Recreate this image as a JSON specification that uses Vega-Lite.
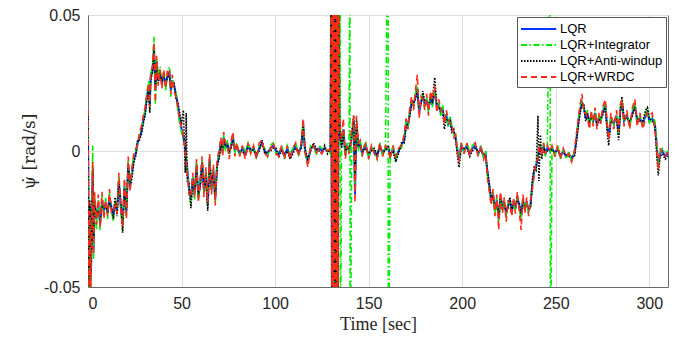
{
"$schema": "https://vega.github.io/schema/vega-lite/v6.json",
"width": 580, "height": 272,
"autosize": {"type": "none"},
"padding": {"left": 88, "top": 15, "right": 13, "bottom": 51},
"background": "white",
"config": {
  "font": "Liberation Sans",
  "view": {"stroke": "#6a6a6a", "strokeWidth": 1},
  "axis": {"labelFont": "Liberation Sans", "labelFontSize": 16, "labelColor": "#262626", "titleFont": "Liberation Serif", "titleFontSize": 18, "titleFontWeight": "normal", "titleColor": "#262626", "gridColor": "#dedede", "gridWidth": 1, "domainColor": "#6a6a6a", "tickColor": "#6a6a6a", "ticks": false, "labelPadding": 8},
  "legend": {"title": null, "orient": "top-right", "offset": 2, "symbolType": "M-1,0H3.4", "symbolSize": 256, "symbolStrokeWidth": 1.8, "labelFontSize": 13, "labelFont": "Liberation Sans", "labelColor": "#000000", "strokeColor": "#555555", "fillColor": "white", "padding": 3, "rowPadding": 0, "labelOffset": 22}
},
"data": {"values": [
{"t":0,"a":0.012,"b":0.010,"c":0.014,"d":0.015},
{"t":0.5,"a":-0.052,"b":-0.052,"c":-0.052,"d":-0.052},
{"t":1.0,"a":-0.020,"b":-0.024,"c":-0.018,"d":-0.022},
{"t":1.5,"a":-0.048,"b":-0.052,"c":-0.045,"d":-0.052},
{"t":2.0,"a":-0.030,"b":-0.026,"c":-0.033,"d":-0.028},
{"t":2.5,"a":-0.008,"b":0.002,"c":-0.006,"d":-0.004},
{"t":3.0,"a":-0.036,"b":-0.040,"c":-0.032,"d":-0.038},
{"t":3.5,"a":-0.018,"b":-0.016,"c":-0.020,"d":-0.015},
{"t":4.5,"a":-0.025,"b":-0.029,"c":-0.024,"d":-0.027},
{"t":5.5,"a":-0.020,"b":-0.018,"c":-0.022,"d":-0.016},
{"t":6.5,"a":-0.027,"b":-0.029,"c":-0.025,"d":-0.028},
{"t":7.5,"a":-0.018,"b":-0.016,"c":-0.020,"d":-0.015},
{"t":8.5,"a":-0.022,"b":-0.024,"c":-0.021,"d":-0.025},
{"t":9.5,"a":-0.019,"b":-0.017,"c":-0.020,"d":-0.018},
{"t":10.5,"a":-0.023,"b":-0.025,"c":-0.022,"d":-0.024},
{"t":11.5,"a":-0.017,"b":-0.015,"c":-0.019,"d":-0.014},
{"t":12.5,"a":-0.021,"b":-0.022,"c":-0.020,"d":-0.023},
{"t":13.5,"a":-0.024,"b":-0.026,"c":-0.025,"d":-0.022},
{"t":14.5,"a":-0.019,"b":-0.018,"c":-0.017,"d":-0.020},
{"t":15.5,"a":-0.022,"b":-0.021,"c":-0.024,"d":-0.023},
{"t":16.5,"a":-0.011,"b":-0.009,"c":-0.012,"d":-0.008},
{"t":17.5,"a":-0.020,"b":-0.022,"c":-0.018,"d":-0.021},
{"t":18.5,"a":-0.027,"b":-0.029,"c":-0.030,"d":-0.028},
{"t":19.5,"a":-0.013,"b":-0.011,"c":-0.014,"d":-0.010},
{"t":20.5,"a":-0.022,"b":-0.024,"c":-0.023,"d":-0.025},
{"t":21.5,"a":-0.005,"b":-0.003,"c":-0.006,"d":-0.002},
{"t":22.5,"a":-0.012,"b":-0.014,"c":-0.013,"d":-0.015},
{"t":23.5,"a":-0.008,"b":-0.007,"c":-0.010,"d":-0.006},
{"t":24.5,"a":-0.003,"b":-0.002,"c":-0.004,"d":-0.001},
{"t":25.5,"a":-0.001,"b":0.000,"c":-0.002,"d":0.001},
{"t":26.5,"a":0.003,"b":0.002,"c":0.004,"d":0.002},
{"t":27.5,"a":0.005,"b":0.006,"c":0.004,"d":0.007},
{"t":28.5,"a":0.007,"b":0.008,"c":0.006,"d":0.009},
{"t":29.5,"a":0.011,"b":0.012,"c":0.010,"d":0.013},
{"t":30.5,"a":0.014,"b":0.015,"c":0.013,"d":0.016},
{"t":31.5,"a":0.020,"b":0.022,"c":0.019,"d":0.021},
{"t":32.5,"a":0.024,"b":0.026,"c":0.023,"d":0.025},
{"t":33.0,"a":0.017,"b":0.015,"c":0.014,"d":0.016},
{"t":33.5,"a":0.027,"b":0.028,"c":0.026,"d":0.029},
{"t":34.5,"a":0.030,"b":0.032,"c":0.029,"d":0.031},
{"t":35.3,"a":0.038,"b":0.042,"c":0.037,"d":0.040},
{"t":36.0,"a":0.022,"b":0.017,"c":0.023,"d":0.018},
{"t":36.7,"a":0.033,"b":0.034,"c":0.031,"d":0.035},
{"t":37.5,"a":0.026,"b":0.027,"c":0.025,"d":0.024},
{"t":38.5,"a":0.029,"b":0.031,"c":0.028,"d":0.030},
{"t":39.5,"a":0.025,"b":0.024,"c":0.026,"d":0.023},
{"t":40.5,"a":0.028,"b":0.029,"c":0.027,"d":0.030},
{"t":41.5,"a":0.024,"b":0.022,"c":0.025,"d":0.023},
{"t":42.5,"a":0.028,"b":0.029,"c":0.027,"d":0.030},
{"t":43.5,"a":0.029,"b":0.031,"c":0.028,"d":0.030},
{"t":44.3,"a":0.022,"b":0.020,"c":0.023,"d":0.021},
{"t":45.0,"a":0.026,"b":0.027,"c":0.025,"d":0.028},
{"t":46.0,"a":0.024,"b":0.023,"c":0.025,"d":0.022},
{"t":47.0,"a":0.021,"b":0.022,"c":0.019,"d":0.020},
{"t":48.0,"a":0.017,"b":0.015,"c":0.018,"d":0.016},
{"t":49.0,"a":0.012,"b":0.010,"c":0.014,"d":0.011},
{"t":50.0,"a":0.008,"b":0.007,"c":0.010,"d":0.009},
{"t":51.0,"a":0.005,"b":0.004,"c":0.015,"d":0.006},
{"t":52.0,"a":0.001,"b":0.002,"c":-0.008,"d":0.000},
{"t":52.5,"a":-0.003,"b":-0.002,"c":0.014,"d":-0.004},
{"t":53.0,"a":-0.006,"b":-0.007,"c":-0.011,"d":-0.008},
{"t":54.0,"a":-0.014,"b":-0.015,"c":-0.012,"d":-0.016},
{"t":55.0,"a":-0.018,"b":-0.020,"c":-0.021,"d":-0.017},
{"t":56.0,"a":-0.010,"b":-0.009,"c":-0.011,"d":-0.008},
{"t":57.0,"a":-0.016,"b":-0.018,"c":-0.015,"d":-0.017},
{"t":58.0,"a":-0.005,"b":-0.004,"c":-0.006,"d":-0.003},
{"t":59.0,"a":-0.017,"b":-0.018,"c":-0.016,"d":-0.019},
{"t":60.0,"a":-0.012,"b":-0.011,"c":-0.013,"d":-0.010},
{"t":61.0,"a":-0.004,"b":-0.003,"c":-0.005,"d":-0.002},
{"t":62.0,"a":-0.015,"b":-0.016,"c":-0.014,"d":-0.017},
{"t":63.0,"a":-0.008,"b":-0.007,"c":-0.009,"d":-0.006},
{"t":64.0,"a":-0.020,"b":-0.021,"c":-0.022,"d":-0.019},
{"t":65.0,"a":-0.003,"b":-0.002,"c":-0.004,"d":-0.001},
{"t":66.0,"a":-0.014,"b":-0.015,"c":-0.013,"d":-0.016},
{"t":67.0,"a":-0.007,"b":-0.006,"c":-0.008,"d":-0.005},
{"t":68.0,"a":-0.018,"b":-0.019,"c":-0.017,"d":-0.020},
{"t":69.0,"a":-0.005,"b":-0.004,"c":-0.006,"d":-0.003},
{"t":70.0,"a":-0.002,"b":-0.001,"c":-0.003,"d":0.000},
{"t":71.0,"a":0.003,"b":0.004,"c":0.002,"d":0.005},
{"t":72.0,"a":0.000,"b":-0.001,"c":0.001,"d":-0.002},
{"t":72.5,"a":0.005,"b":0.006,"c":0.004,"d":0.007},
{"t":73.5,"a":0.001,"b":0.000,"c":0.002,"d":0.003},
{"t":74.5,"a":0.003,"b":0.004,"c":0.002,"d":0.002},
{"t":75.5,"a":-0.001,"b":-0.002,"c":0.000,"d":-0.003},
{"t":76.5,"a":0.002,"b":0.003,"c":0.001,"d":0.004},
{"t":77.5,"a":0.005,"b":0.006,"c":0.004,"d":0.007},
{"t":78.5,"a":0.000,"b":-0.001,"c":0.001,"d":-0.002},
{"t":79.5,"a":0.002,"b":0.003,"c":0.001,"d":0.003},
{"t":81.0,"a":-0.001,"b":-0.002,"c":0.000,"d":-0.002},
{"t":82.5,"a":0.001,"b":0.002,"c":0.000,"d":0.002},
{"t":84.0,"a":-0.001,"b":0.000,"c":-0.002,"d":-0.003},
{"t":85.5,"a":0.002,"b":0.003,"c":0.001,"d":0.003},
{"t":87.0,"a":0.000,"b":-0.001,"c":0.001,"d":-0.001},
{"t":88.5,"a":0.001,"b":0.002,"c":0.000,"d":0.002},
{"t":90.0,"a":-0.002,"b":-0.003,"c":-0.001,"d":-0.003},
{"t":91.5,"a":0.001,"b":0.002,"c":0.000,"d":0.003},
{"t":93.0,"a":0.003,"b":0.002,"c":0.004,"d":0.004},
{"t":94.5,"a":0.000,"b":0.001,"c":-0.001,"d":-0.001},
{"t":96.0,"a":-0.001,"b":-0.002,"c":0.000,"d":-0.002},
{"t":97.5,"a":0.001,"b":0.002,"c":0.000,"d":0.001},
{"t":99.0,"a":0.002,"b":0.003,"c":0.001,"d":0.003},
{"t":100.5,"a":0.000,"b":-0.001,"c":0.001,"d":-0.001},
{"t":102.0,"a":-0.001,"b":0.000,"c":-0.002,"d":-0.002},
{"t":103.5,"a":0.001,"b":0.002,"c":0.000,"d":0.002},
{"t":105.0,"a":-0.002,"b":-0.003,"c":-0.001,"d":-0.003},
{"t":106.5,"a":0.001,"b":0.002,"c":0.000,"d":0.002},
{"t":108.0,"a":-0.002,"b":-0.001,"c":-0.003,"d":-0.003},
{"t":109.5,"a":0.000,"b":0.001,"c":-0.001,"d":0.001},
{"t":111.0,"a":0.002,"b":0.003,"c":0.001,"d":0.003},
{"t":112.5,"a":-0.001,"b":-0.002,"c":0.000,"d":-0.002},
{"t":114.0,"a":0.002,"b":0.003,"c":0.001,"d":0.003},
{"t":115.0,"a":0.009,"b":0.010,"c":0.011,"d":0.012},
{"t":116.0,"a":0.000,"b":-0.001,"c":0.001,"d":0.000},
{"t":117.5,"a":-0.004,"b":-0.005,"c":-0.003,"d":-0.006},
{"t":119.0,"a":0.001,"b":0.002,"c":0.000,"d":0.002},
{"t":120.5,"a":0.002,"b":0.001,"c":0.003,"d":0.002},
{"t":122.0,"a":0.000,"b":-0.001,"c":0.001,"d":-0.001},
{"t":123.5,"a":0.001,"b":0.002,"c":0.000,"d":0.001},
{"t":125.0,"a":0.000,"b":0.001,"c":-0.001,"d":-0.001},
{"t":126.5,"a":0.001,"b":0.000,"c":0.002,"d":0.001},
{"t":128.0,"a":0.000,"b":0.001,"c":-0.001,"d":0.000},
{"t":129.6,"a":0.000,"b":-0.001,"c":0.001,"d":0.001},
{"t":130.0,"a":0.07,"b":0.07,"c":0.07,"d":0.07},
{"t":130.4,"a":-0.07,"b":-0.07,"c":-0.07,"d":-0.07},
{"t":130.8,"a":0.07,"b":0.07,"c":0.07,"d":0.07},
{"t":131.2,"a":-0.07,"b":-0.07,"c":-0.07,"d":-0.07},
{"t":131.6,"a":0.07,"b":0.07,"c":0.07,"d":0.07},
{"t":132.0,"a":-0.07,"b":-0.07,"c":-0.07,"d":-0.07},
{"t":132.4,"a":0.07,"b":0.07,"c":0.07,"d":0.07},
{"t":132.8,"a":-0.07,"b":-0.07,"c":-0.07,"d":-0.07},
{"t":133.2,"a":0.07,"b":0.07,"c":0.07,"d":0.07},
{"t":133.6,"a":-0.07,"b":-0.07,"c":-0.07,"d":-0.07},
{"t":134.0,"a":0.07,"b":0.07,"c":0.07,"d":0.07},
{"t":134.4,"a":0.012,"b":0.010,"c":0.013,"d":0.016},
{"t":134.8,"a":0.004,"b":0.1,"c":0.005,"d":0.008},
{"t":134.9,"a":0.005,"b":-0.1,"c":0.006,"d":0.009},
{"t":135.5,"a":0.002,"b":0.003,"c":0.001,"d":0.004},
{"t":136.5,"a":0.008,"b":0.007,"c":0.006,"d":0.012},
{"t":137.5,"a":-0.001,"b":-0.002,"c":0.000,"d":-0.003},
{"t":138.5,"a":0.002,"b":0.003,"c":0.001,"d":0.002},
{"t":139.5,"a":0.000,"b":-0.001,"c":0.001,"d":-0.001},
{"t":140.0,"a":0.001,"b":0.1,"c":0.002,"d":0.001},
{"t":140.1,"a":0.001,"b":-0.1,"c":0.002,"d":0.001},
{"t":141.0,"a":0.005,"b":0.006,"c":0.007,"d":0.008},
{"t":142.0,"a":0.011,"b":0.010,"c":0.013,"d":0.013},
{"t":142.7,"a":-0.016,"b":-0.012,"c":-0.010,"d":-0.019},
{"t":143.5,"a":0.009,"b":0.010,"c":0.012,"d":0.013},
{"t":144.5,"a":0.001,"b":0.000,"c":0.002,"d":0.003},
{"t":145.5,"a":0.003,"b":0.004,"c":0.002,"d":0.004},
{"t":146.5,"a":-0.001,"b":-0.002,"c":0.000,"d":-0.002},
{"t":147.5,"a":0.001,"b":0.002,"c":0.000,"d":0.001},
{"t":148.5,"a":0.002,"b":0.003,"c":0.001,"d":0.003},
{"t":150.0,"a":-0.002,"b":-0.003,"c":-0.001,"d":-0.003},
{"t":151.5,"a":0.001,"b":0.002,"c":0.000,"d":0.002},
{"t":153.0,"a":0.000,"b":-0.001,"c":0.001,"d":-0.001},
{"t":154.5,"a":-0.002,"b":-0.003,"c":-0.001,"d":-0.003},
{"t":156.0,"a":0.002,"b":0.003,"c":0.001,"d":0.003},
{"t":157.5,"a":-0.001,"b":-0.002,"c":0.000,"d":-0.002},
{"t":159.0,"a":0.001,"b":0.002,"c":0.000,"d":0.002},
{"t":160.4,"a":0.001,"b":0.1,"c":0.002,"d":0.001},
{"t":160.5,"a":0.001,"b":-0.1,"c":0.002,"d":0.001},
{"t":161.5,"a":-0.002,"b":-0.003,"c":-0.001,"d":-0.003},
{"t":163.0,"a":0.001,"b":0.002,"c":0.000,"d":0.002},
{"t":164.5,"a":-0.003,"b":-0.004,"c":-0.004,"d":-0.002},
{"t":166.0,"a":0.000,"b":0.001,"c":-0.001,"d":0.001},
{"t":167.5,"a":0.002,"b":0.001,"c":0.003,"d":0.002},
{"t":169.0,"a":0.004,"b":0.005,"c":0.003,"d":0.006},
{"t":170.0,"a":0.010,"b":0.011,"c":0.009,"d":0.012},
{"t":171.0,"a":0.009,"b":0.008,"c":0.010,"d":0.008},
{"t":172.0,"a":0.014,"b":0.015,"c":0.013,"d":0.016},
{"t":173.0,"a":0.018,"b":0.019,"c":0.017,"d":0.020},
{"t":174.0,"a":0.017,"b":0.016,"c":0.018,"d":0.015},
{"t":175.0,"a":0.020,"b":0.021,"c":0.019,"d":0.022},
{"t":176.0,"a":0.023,"b":0.024,"c":0.022,"d":0.028},
{"t":177.0,"a":0.014,"b":0.015,"c":0.016,"d":0.012},
{"t":178.0,"a":0.018,"b":0.019,"c":0.017,"d":0.020},
{"t":179.0,"a":0.020,"b":0.021,"c":0.022,"d":0.019},
{"t":180.0,"a":0.017,"b":0.016,"c":0.018,"d":0.015},
{"t":181.0,"a":0.019,"b":0.020,"c":0.018,"d":0.021},
{"t":182.0,"a":0.015,"b":0.014,"c":0.016,"d":0.013},
{"t":183.0,"a":0.020,"b":0.021,"c":0.019,"d":0.022},
{"t":184.0,"a":0.017,"b":0.016,"c":0.018,"d":0.019},
{"t":185.3,"a":0.022,"b":0.023,"c":0.027,"d":0.024},
{"t":186.5,"a":0.016,"b":0.015,"c":0.017,"d":0.014},
{"t":187.5,"a":0.017,"b":0.018,"c":0.016,"d":0.019},
{"t":188.5,"a":0.014,"b":0.013,"c":0.015,"d":0.016},
{"t":189.5,"a":0.016,"b":0.017,"c":0.015,"d":0.014},
{"t":190.5,"a":0.011,"b":0.012,"c":0.008,"d":0.010},
{"t":191.5,"a":0.013,"b":0.014,"c":0.012,"d":0.015},
{"t":192.5,"a":0.010,"b":0.009,"c":0.011,"d":0.012},
{"t":193.5,"a":0.012,"b":0.013,"c":0.011,"d":0.010},
{"t":194.5,"a":0.008,"b":0.009,"c":0.007,"d":0.010},
{"t":195.5,"a":0.007,"b":0.006,"c":0.008,"d":0.005},
{"t":196.5,"a":0.005,"b":0.006,"c":0.004,"d":0.006},
{"t":197.5,"a":0.000,"b":0.001,"c":-0.002,"d":-0.001},
{"t":198.3,"a":-0.003,"b":-0.002,"c":-0.006,"d":-0.004},
{"t":199.5,"a":0.002,"b":0.003,"c":0.001,"d":0.003},
{"t":201.0,"a":0.000,"b":-0.001,"c":0.001,"d":-0.001},
{"t":202.5,"a":0.002,"b":0.003,"c":0.001,"d":0.003},
{"t":204.0,"a":-0.001,"b":0.000,"c":-0.002,"d":-0.002},
{"t":205.5,"a":0.001,"b":0.002,"c":0.000,"d":0.002},
{"t":207.0,"a":0.002,"b":0.003,"c":0.001,"d":0.003},
{"t":208.5,"a":-0.001,"b":-0.002,"c":0.000,"d":-0.002},
{"t":210.0,"a":0.001,"b":0.002,"c":0.000,"d":0.002},
{"t":211.5,"a":-0.002,"b":-0.003,"c":-0.001,"d":-0.003},
{"t":212.5,"a":-0.001,"b":0.000,"c":-0.002,"d":-0.001},
{"t":213.5,"a":-0.008,"b":-0.009,"c":-0.007,"d":-0.010},
{"t":214.5,"a":-0.013,"b":-0.014,"c":-0.012,"d":-0.015},
{"t":215.5,"a":-0.018,"b":-0.019,"c":-0.017,"d":-0.020},
{"t":216.5,"a":-0.016,"b":-0.015,"c":-0.017,"d":-0.014},
{"t":217.5,"a":-0.022,"b":-0.023,"c":-0.021,"d":-0.024},
{"t":218.5,"a":-0.018,"b":-0.017,"c":-0.019,"d":-0.016},
{"t":219.5,"a":-0.025,"b":-0.026,"c":-0.024,"d":-0.029},
{"t":220.5,"a":-0.017,"b":-0.018,"c":-0.016,"d":-0.015},
{"t":221.5,"a":-0.021,"b":-0.022,"c":-0.020,"d":-0.023},
{"t":222.5,"a":-0.019,"b":-0.018,"c":-0.020,"d":-0.017},
{"t":223.5,"a":-0.023,"b":-0.024,"c":-0.022,"d":-0.026},
{"t":224.5,"a":-0.020,"b":-0.019,"c":-0.021,"d":-0.018},
{"t":225.5,"a":-0.018,"b":-0.019,"c":-0.017,"d":-0.020},
{"t":226.5,"a":-0.022,"b":-0.021,"c":-0.023,"d":-0.024},
{"t":227.5,"a":-0.019,"b":-0.020,"c":-0.018,"d":-0.017},
{"t":228.5,"a":-0.021,"b":-0.022,"c":-0.020,"d":-0.023},
{"t":229.5,"a":-0.017,"b":-0.016,"c":-0.018,"d":-0.015},
{"t":230.5,"a":-0.020,"b":-0.021,"c":-0.019,"d":-0.022},
{"t":231.5,"a":-0.024,"b":-0.025,"c":-0.023,"d":-0.029},
{"t":232.5,"a":-0.018,"b":-0.017,"c":-0.019,"d":-0.016},
{"t":233.5,"a":-0.021,"b":-0.022,"c":-0.020,"d":-0.023},
{"t":234.5,"a":-0.019,"b":-0.018,"c":-0.020,"d":-0.017},
{"t":235.5,"a":-0.022,"b":-0.023,"c":-0.021,"d":-0.024},
{"t":236.5,"a":-0.020,"b":-0.019,"c":-0.021,"d":-0.018},
{"t":237.5,"a":-0.012,"b":-0.013,"c":-0.011,"d":-0.014},
{"t":238.5,"a":-0.007,"b":-0.008,"c":-0.006,"d":-0.009},
{"t":239.5,"a":-0.006,"b":-0.005,"c":-0.007,"d":-0.004},
{"t":240.5,"a":-0.002,"b":-0.001,"c":0.013,"d":-0.003},
{"t":241.0,"a":0.000,"b":0.001,"c":-0.011,"d":0.001},
{"t":241.8,"a":0.001,"b":0.002,"c":0.006,"d":0.002},
{"t":242.5,"a":-0.001,"b":-0.002,"c":-0.003,"d":-0.002},
{"t":243.5,"a":0.002,"b":0.003,"c":0.001,"d":0.003},
{"t":244.5,"a":-0.001,"b":-0.002,"c":0.000,"d":-0.001},
{"t":245.5,"a":0.001,"b":0.002,"c":0.000,"d":0.002},
{"t":247.0,"a":0.000,"b":0.1,"c":0.001,"d":0.000},
{"t":247.1,"a":0.000,"b":-0.1,"c":0.001,"d":0.000},
{"t":248.0,"a":0.001,"b":0.002,"c":0.000,"d":0.002},
{"t":249.5,"a":-0.001,"b":-0.002,"c":0.000,"d":-0.002},
{"t":251.0,"a":0.001,"b":0.002,"c":0.000,"d":0.002},
{"t":252.5,"a":-0.002,"b":-0.003,"c":-0.001,"d":-0.003},
{"t":254.0,"a":0.000,"b":0.001,"c":-0.001,"d":0.001},
{"t":255.5,"a":-0.002,"b":-0.003,"c":-0.001,"d":-0.002},
{"t":257.0,"a":-0.001,"b":0.000,"c":-0.002,"d":-0.001},
{"t":258.5,"a":-0.003,"b":-0.004,"c":-0.002,"d":-0.004},
{"t":260.0,"a":-0.001,"b":0.000,"c":-0.002,"d":0.000},
{"t":261.0,"a":0.004,"b":0.005,"c":0.003,"d":0.006},
{"t":262.0,"a":0.010,"b":0.011,"c":0.009,"d":0.012},
{"t":263.0,"a":0.015,"b":0.016,"c":0.014,"d":0.017},
{"t":264.0,"a":0.018,"b":0.019,"c":0.017,"d":0.021},
{"t":265.0,"a":0.016,"b":0.015,"c":0.017,"d":0.014},
{"t":266.0,"a":0.012,"b":0.013,"c":0.011,"d":0.014},
{"t":267.0,"a":0.014,"b":0.015,"c":0.013,"d":0.012},
{"t":268.0,"a":0.010,"b":0.009,"c":0.011,"d":0.008},
{"t":269.0,"a":0.013,"b":0.014,"c":0.012,"d":0.015},
{"t":270.0,"a":0.011,"b":0.010,"c":0.012,"d":0.009},
{"t":271.0,"a":0.014,"b":0.015,"c":0.013,"d":0.016},
{"t":272.0,"a":0.010,"b":0.011,"c":0.009,"d":0.008},
{"t":273.0,"a":0.012,"b":0.013,"c":0.011,"d":0.014},
{"t":274.0,"a":0.011,"b":0.010,"c":0.012,"d":0.010},
{"t":275.0,"a":0.014,"b":0.015,"c":0.013,"d":0.016},
{"t":276.5,"a":0.017,"b":0.018,"c":0.016,"d":0.019},
{"t":277.5,"a":0.009,"b":0.008,"c":0.007,"d":0.010},
{"t":278.3,"a":0.005,"b":0.006,"c":0.002,"d":0.004},
{"t":279.5,"a":0.012,"b":0.013,"c":0.011,"d":0.014},
{"t":281.0,"a":0.010,"b":0.009,"c":0.011,"d":0.008},
{"t":282.5,"a":0.013,"b":0.014,"c":0.012,"d":0.015},
{"t":283.6,"a":0.006,"b":0.005,"c":0.004,"d":0.007},
{"t":284.5,"a":0.015,"b":0.016,"c":0.014,"d":0.017},
{"t":285.4,"a":0.018,"b":0.019,"c":0.020,"d":0.019},
{"t":286.5,"a":0.011,"b":0.010,"c":0.012,"d":0.009},
{"t":288.0,"a":0.013,"b":0.014,"c":0.012,"d":0.015},
{"t":289.5,"a":0.010,"b":0.009,"c":0.011,"d":0.008},
{"t":291.0,"a":0.014,"b":0.015,"c":0.013,"d":0.016},
{"t":292.3,"a":0.017,"b":0.018,"c":0.016,"d":0.019},
{"t":293.5,"a":0.011,"b":0.010,"c":0.012,"d":0.009},
{"t":295.0,"a":0.012,"b":0.013,"c":0.011,"d":0.014},
{"t":296.5,"a":0.010,"b":0.009,"c":0.011,"d":0.008},
{"t":298.0,"a":0.013,"b":0.014,"c":0.015,"d":0.012},
{"t":299.0,"a":0.015,"b":0.016,"c":0.016,"d":0.014},
{"t":300.0,"a":0.011,"b":0.010,"c":0.012,"d":0.013},
{"t":301.5,"a":0.012,"b":0.013,"c":0.011,"d":0.014},
{"t":303.0,"a":0.010,"b":0.011,"c":0.009,"d":0.008},
{"t":304.0,"a":0.002,"b":0.003,"c":-0.002,"d":0.001},
{"t":304.8,"a":-0.005,"b":-0.006,"c":-0.009,"d":-0.007},
{"t":305.8,"a":-0.001,"b":0.000,"c":-0.002,"d":0.001},
{"t":307.0,"a":0.000,"b":0.001,"c":-0.001,"d":-0.001},
{"t":308.5,"a":-0.002,"b":-0.001,"c":-0.003,"d":-0.002},
{"t":310.0,"a":-0.001,"b":0.000,"c":-0.002,"d":0.000}
]},
"transform": [{"fold": ["a", "b", "c", "d"], "as": ["s", "v"]}],
"encoding": {
  "x": {"field": "t", "type": "quantitative", "scale": {"domain": [0, 310], "nice": false, "zero": false}, "axis": {"values": [0, 50, 100, 150, 200, 250, 300], "title": "Time [sec]", "grid": true, "titlePadding": 4}},
  "y": {"field": "v", "type": "quantitative", "scale": {"domain": [-0.05, 0.05], "nice": false, "zero": false}, "axis": {"values": [-0.05, 0, 0.05], "labelExpr": "datum.value > 0.01 ? '0.05' : (datum.value < -0.01 ? '-0.05' : '0')", "title": "ψ̇ [rad/s]", "titleFont": "DejaVu Serif", "titleFontSize": 17, "grid": true, "titlePadding": 5}},
  "color": {"field": "s", "type": "nominal", "scale": {"domain": ["a", "b", "c", "d"], "range": ["#0033ff", "#00ee00", "#000000", "#ff2a1a"]}, "legend": {"labelExpr": "datum.value == 'a' ? 'LQR' : datum.value == 'b' ? 'LQR+Integrator' : datum.value == 'c' ? 'LQR+Anti-windup' : 'LQR+WRDC'"}},
  "strokeDash": {"field": "s", "type": "nominal", "scale": {"domain": ["a", "b", "c", "d"], "range": [[1, 0], [6, 2.5, 1.5, 2.5], [1.5, 1.5], [6, 4]]}, "legend": {"labelExpr": "datum.value == 'a' ? 'LQR' : datum.value == 'b' ? 'LQR+Integrator' : datum.value == 'c' ? 'LQR+Anti-windup' : 'LQR+WRDC'"}}
},
"layer": [
  {"transform": [{"filter": "datum.s == 'a'"}], "mark": {"type": "line", "clip": true, "strokeWidth": 2}},
  {"transform": [{"filter": "datum.s == 'b'"}], "mark": {"type": "line", "clip": true, "strokeWidth": 1.6}},
  {"transform": [{"filter": "datum.s == 'c'"}], "mark": {"type": "line", "clip": true, "strokeWidth": 1.6}},
  {"transform": [{"filter": "datum.s == 'd'"}], "mark": {"type": "line", "clip": true, "strokeWidth": 1.6}}
]
}
